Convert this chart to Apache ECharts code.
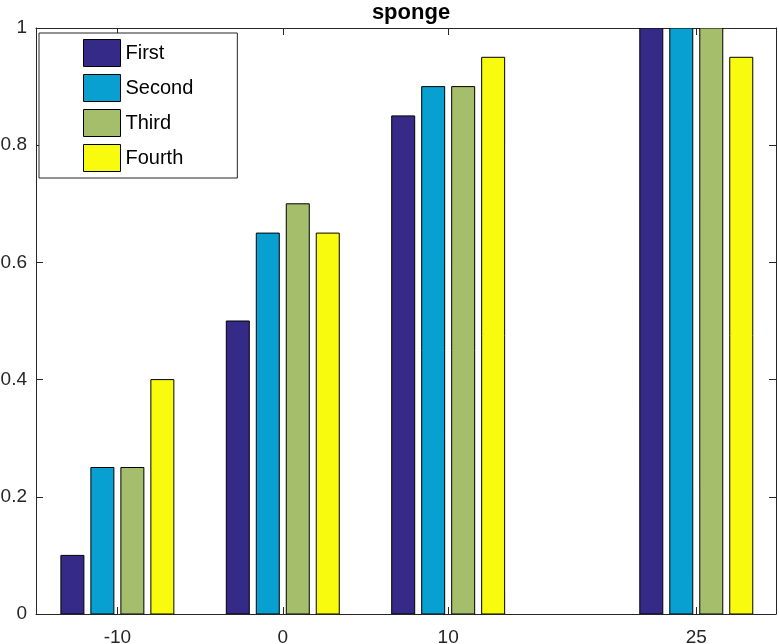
<!DOCTYPE html>
<html><head><meta charset="utf-8">
<script src="https://cdn.jsdelivr.net/npm/echarts@6/dist/echarts.min.js"></script>
<style>html,body{margin:0;padding:0;background:#fff}#c{width:779px;height:644px}</style>
</head><body><div id="c"></div>
<script>
const categories = [-10, 0, 10, 25];
const seriesNames = ['First', 'Second', 'Third', 'Fourth'];
const first  = [0.10, 0.50, 0.85, 1.00];
const second = [0.25, 0.65, 0.90, 1.00];
const third  = [0.25, 0.70, 0.90, 1.00];
const fourth = [0.40, 0.65, 0.95, 0.95];
const yTicks = [0, 0.2, 0.4, 0.6, 0.8, 1];
const colors = ['#352a87', '#07a0d0', '#a5be6b', '#f9fb0e'];

const allValues = [first, second, third, fourth];
const PITCH = 1.813;   // data units between bars in a group
const BARW = 1.39;     // bar width in data units
const font = 'Liberation Sans, Arial, Helvetica, sans-serif';

function renderItem(params, api) {
  const idx = params.seriesIndex;
  const x = api.value(0), y = api.value(1);
  const off = (idx - 1.5) * PITCH;
  const p1 = api.coord([x + off - BARW / 2, y]);
  const p2 = api.coord([x + off + BARW / 2, 0]);
  return {
    type: 'rect',
    shape: { x: p1[0], y: p1[1], width: p2[0] - p1[0], height: p2[1] - p1[1] },
    style: { fill: colors[idx], stroke: '#000', lineWidth: 1 }
  };
}

const series = seriesNames.map((n, i) => ({
  name: n,
  type: 'custom',
  renderItem: renderItem,
  itemStyle: { color: colors[i] },
  data: categories.map((c, j) => [c, allValues[i][j]]),
  clip: true
}));

const axisCommon = {
  axisLine: { show: true, onZero: false, lineStyle: { color: '#262626', width: 1 } },
  axisTick: { show: true, inside: true, length: 7, lineStyle: { color: '#262626' } },
  splitLine: { show: false }
};

const chart = echarts.init(document.getElementById('c'), null, { renderer: 'canvas' });
chart.setOption({
  animation: false,
  backgroundColor: '#fff',
  title: {
    text: 'sponge', left: 406, top: -3, textAlign: 'center',
    textStyle: { fontFamily: font, fontSize: 22, fontWeight: 'bold', color: '#000' }
  },
  legend: {
    orient: 'vertical', left: 39, top: 33,
    itemWidth: 37, itemHeight: 27, itemGap: 7,
    padding: [6, 44, 6, 44],
    borderColor: '#262626', borderWidth: 1, backgroundColor: '#fff',
    icon: 'rect',
    textStyle: { fontFamily: font, fontSize: 20, color: '#000', padding: [0, 0, 0, 0] },
    data: seriesNames.map((n, i) => ({ name: n, itemStyle: { color: colors[i], borderColor: '#000', borderWidth: 1 } }))
  },
  grid: { left: 36, right: 3, top: 28, bottom: 30, containLabel: false, outerBoundsMode: 'none' },
  xAxis: [
    Object.assign({}, axisCommon, {
      type: 'value', position: 'bottom', min: -14.92, max: 29.82,
      axisTick: Object.assign({}, axisCommon.axisTick, { customValues: categories }),
      axisLabel: { customValues: categories, margin: 14, fontFamily: font, fontSize: 19, color: '#262626' }
    }),
    Object.assign({}, axisCommon, {
      type: 'value', position: 'top', min: -14.92, max: 29.82,
      axisTick: Object.assign({}, axisCommon.axisTick, { customValues: categories }),
      axisLabel: { show: false }
    })
  ],
  yAxis: [
    Object.assign({}, axisCommon, {
      type: 'value', position: 'left', min: 0, max: 1, interval: 0.2,
      axisLabel: { margin: 9, fontFamily: font, fontSize: 19, color: '#262626',
        formatter: v => String(Math.round(v * 10) / 10) }
    }),
    Object.assign({}, axisCommon, {
      type: 'value', position: 'right', min: 0, max: 1, interval: 0.2,
      axisLabel: { show: false }
    })
  ],
  series: series
});
</script>
</body></html>
